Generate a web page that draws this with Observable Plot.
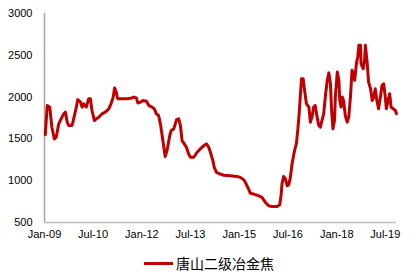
<!DOCTYPE html>
<html>
<head>
<meta charset="utf-8">
<script src="https://cdn.jsdelivr.net/npm/d3@7"></script>
<script src="https://cdn.jsdelivr.net/npm/@observablehq/plot@0.6"></script>
<style>
  html, body { margin: 0; padding: 0; background: #fff; }
  #chart { width: 418px; height: 280px; position: relative; font-family: Arial, "Liberation Sans", sans-serif; }
  #legend { position: absolute; left: 0; top: 253px; width: 418px; display: flex; justify-content: center; align-items: center; }
  #legend .sw { width: 29px; height: 3px; background: #c00000; margin-right: 3px; }
  #legend .lb { font-family: "Noto Sans CJK SC", sans-serif; font-size: 14px; color: #000; letter-spacing: 0px; }
</style>
</head>
<body>
<div id="chart"><div id="legend"><span class="sw"></span><span class="lb"></span></div></div>
<script>
const seriesName = "唐山二级冶金焦";
const dates = [
"2009-01-10","2009-02-01","2009-03-01","2009-03-25","2009-04-22","2009-05-13","2009-06-10","2009-07-07","2009-08-04","2009-08-25",
"2009-09-13","2009-10-01","2009-11-07","2009-11-25","2009-12-25","2010-01-10","2010-02-10","2010-02-28","2010-03-16","2010-04-16",
"2010-05-13","2010-06-01","2010-06-19","2010-07-16","2010-08-07","2010-09-04","2010-10-10","2010-11-16","2010-12-25","2011-01-19",
"2011-02-13","2011-02-28","2011-03-19","2011-04-04","2011-05-22","2011-07-19","2011-09-13","2011-10-01","2011-11-01","2011-11-16",
"2011-12-16","2012-01-16","2012-02-22","2012-03-19","2012-04-25","2012-05-19","2012-06-13","2012-07-07","2012-07-28","2012-08-16",
"2012-09-04","2012-09-19","2012-10-10","2012-11-10","2012-11-25","2012-12-25","2013-01-25","2013-02-19","2013-03-10","2013-03-28",
"2013-04-22","2013-05-16","2013-06-10","2013-07-01","2013-08-07","2013-09-13","2013-10-19","2013-11-28","2013-12-28","2014-01-22",
"2014-02-10","2014-03-10","2014-03-25","2014-04-19","2014-06-01","2014-07-10","2014-09-22","2014-12-07","2015-01-13","2015-02-22",
"2015-03-19","2015-04-16","2015-05-04","2015-06-10","2015-08-07","2015-09-13","2015-10-22","2015-11-28","2016-01-04","2016-03-01",
"2016-04-01","2016-04-16","2016-04-25","2016-05-13","2016-06-04","2016-06-22","2016-07-10","2016-07-28","2016-08-16","2016-09-13",
"2016-10-04","2016-10-19","2016-11-04","2016-11-19","2016-12-01","2016-12-19","2017-01-04","2017-01-25","2017-02-22","2017-03-10",
"2017-03-28","2017-04-16","2017-05-04","2017-05-25","2017-06-13","2017-07-01","2017-07-19","2017-08-07","2017-08-25","2017-09-16",
"2017-10-04","2017-10-22","2017-11-04","2017-11-19","2017-12-07","2017-12-16","2018-01-07","2018-01-25","2018-02-04","2018-02-19",
"2018-03-04","2018-03-19","2018-04-07","2018-04-28","2018-05-16","2018-06-04","2018-06-22","2018-07-10","2018-07-22","2018-08-10",
"2018-08-25","2018-09-07","2018-09-25","2018-10-01","2018-10-25","2018-11-10","2018-11-19","2018-12-10","2018-12-25","2019-01-16",
"2019-02-04","2019-02-22","2019-03-10","2019-03-28","2019-04-16","2019-05-07","2019-05-25","2019-06-13","2019-07-01","2019-07-13",
"2019-07-28","2019-08-19","2019-09-04","2019-09-28","2019-10-22","2019-11-04"
];
const prices = [
1550,1900,1880,1640,1500,1520,1680,1740,1800,1820,
1700,1660,1660,1740,1880,1970,1940,1880,1920,1880,
1980,1980,1840,1720,1740,1760,1800,1820,1860,1920,
2000,2110,2060,1980,1980,1980,1990,2000,1990,1930,
1940,1960,1950,1900,1880,1860,1800,1780,1680,1540,
1400,1290,1360,1540,1600,1620,1730,1740,1660,1480,
1440,1400,1320,1280,1280,1340,1380,1420,1440,1400,
1340,1240,1160,1100,1080,1065,1060,1050,1040,1010,
960,900,850,840,820,800,740,700,690,690,
715,840,960,1050,1020,940,950,1040,1200,1360,
1440,1600,1800,2040,2220,2220,2080,1920,1880,1700,
1760,1880,1900,1760,1660,1640,1720,1800,2000,2200,
2290,2160,1840,1620,1720,2000,2300,2200,1960,1880,
2000,1960,1780,1700,1760,2000,2320,2280,2200,2400,
2480,2620,2620,2400,2340,2440,2620,2400,2180,2100,
1960,2000,2100,1960,1860,2000,2140,2160,2000,1860,
1940,2040,1880,1860,1840,1800
];
const yTicks = [500, 1000, 1500, 2000, 2500, 3000];
const xTickLabels = ["Jan-09","Jul-10","Jan-12","Jul-13","Jan-15","Jul-16","Jan-18","Jul-19"];

const parse = d3.utcParse("%Y-%m-%d");
const data = dates.map((d, i) => ({date: parse(d), value: prices[i]}));
const xStart = parse("2009-01-01");
const xEnd = data[data.length - 1].date;
const fmt = d3.utcFormat("%b-%y");
const xTicks = xTickLabels.map(s => d3.utcParse("%b-%y")(s));

const chart = Plot.plot({
  width: 418,
  height: 242,
  marginTop: 13,
  marginBottom: 20,
  marginLeft: 44,
  marginRight: 22,
  style: {fontFamily: "Arial, 'Liberation Sans', sans-serif", fontSize: "11px", color: "#000", background: "#fff"},
  x: {type: "utc", domain: [xStart, xEnd], ticks: xTicks, tickFormat: fmt, tickSize: 0, tickPadding: 8, label: null},
  y: {domain: [500, 3000], ticks: yTicks, tickFormat: d => String(d), tickSize: 0, tickPadding: 12, label: null},
  marks: [
    Plot.ruleX([xStart], {stroke: "#a6a6a6", strokeWidth: 1.5}),
    Plot.ruleY([500], {stroke: "#bfbfbf", strokeWidth: 1.5}),
    Plot.lineY(data, {x: "date", y: "value", stroke: "#c00000", strokeWidth: 3, strokeLinejoin: "round"})
  ]
});
document.getElementById("chart").prepend(chart);
document.querySelector("#legend .lb").textContent = seriesName;
</script>
</body>
</html>
